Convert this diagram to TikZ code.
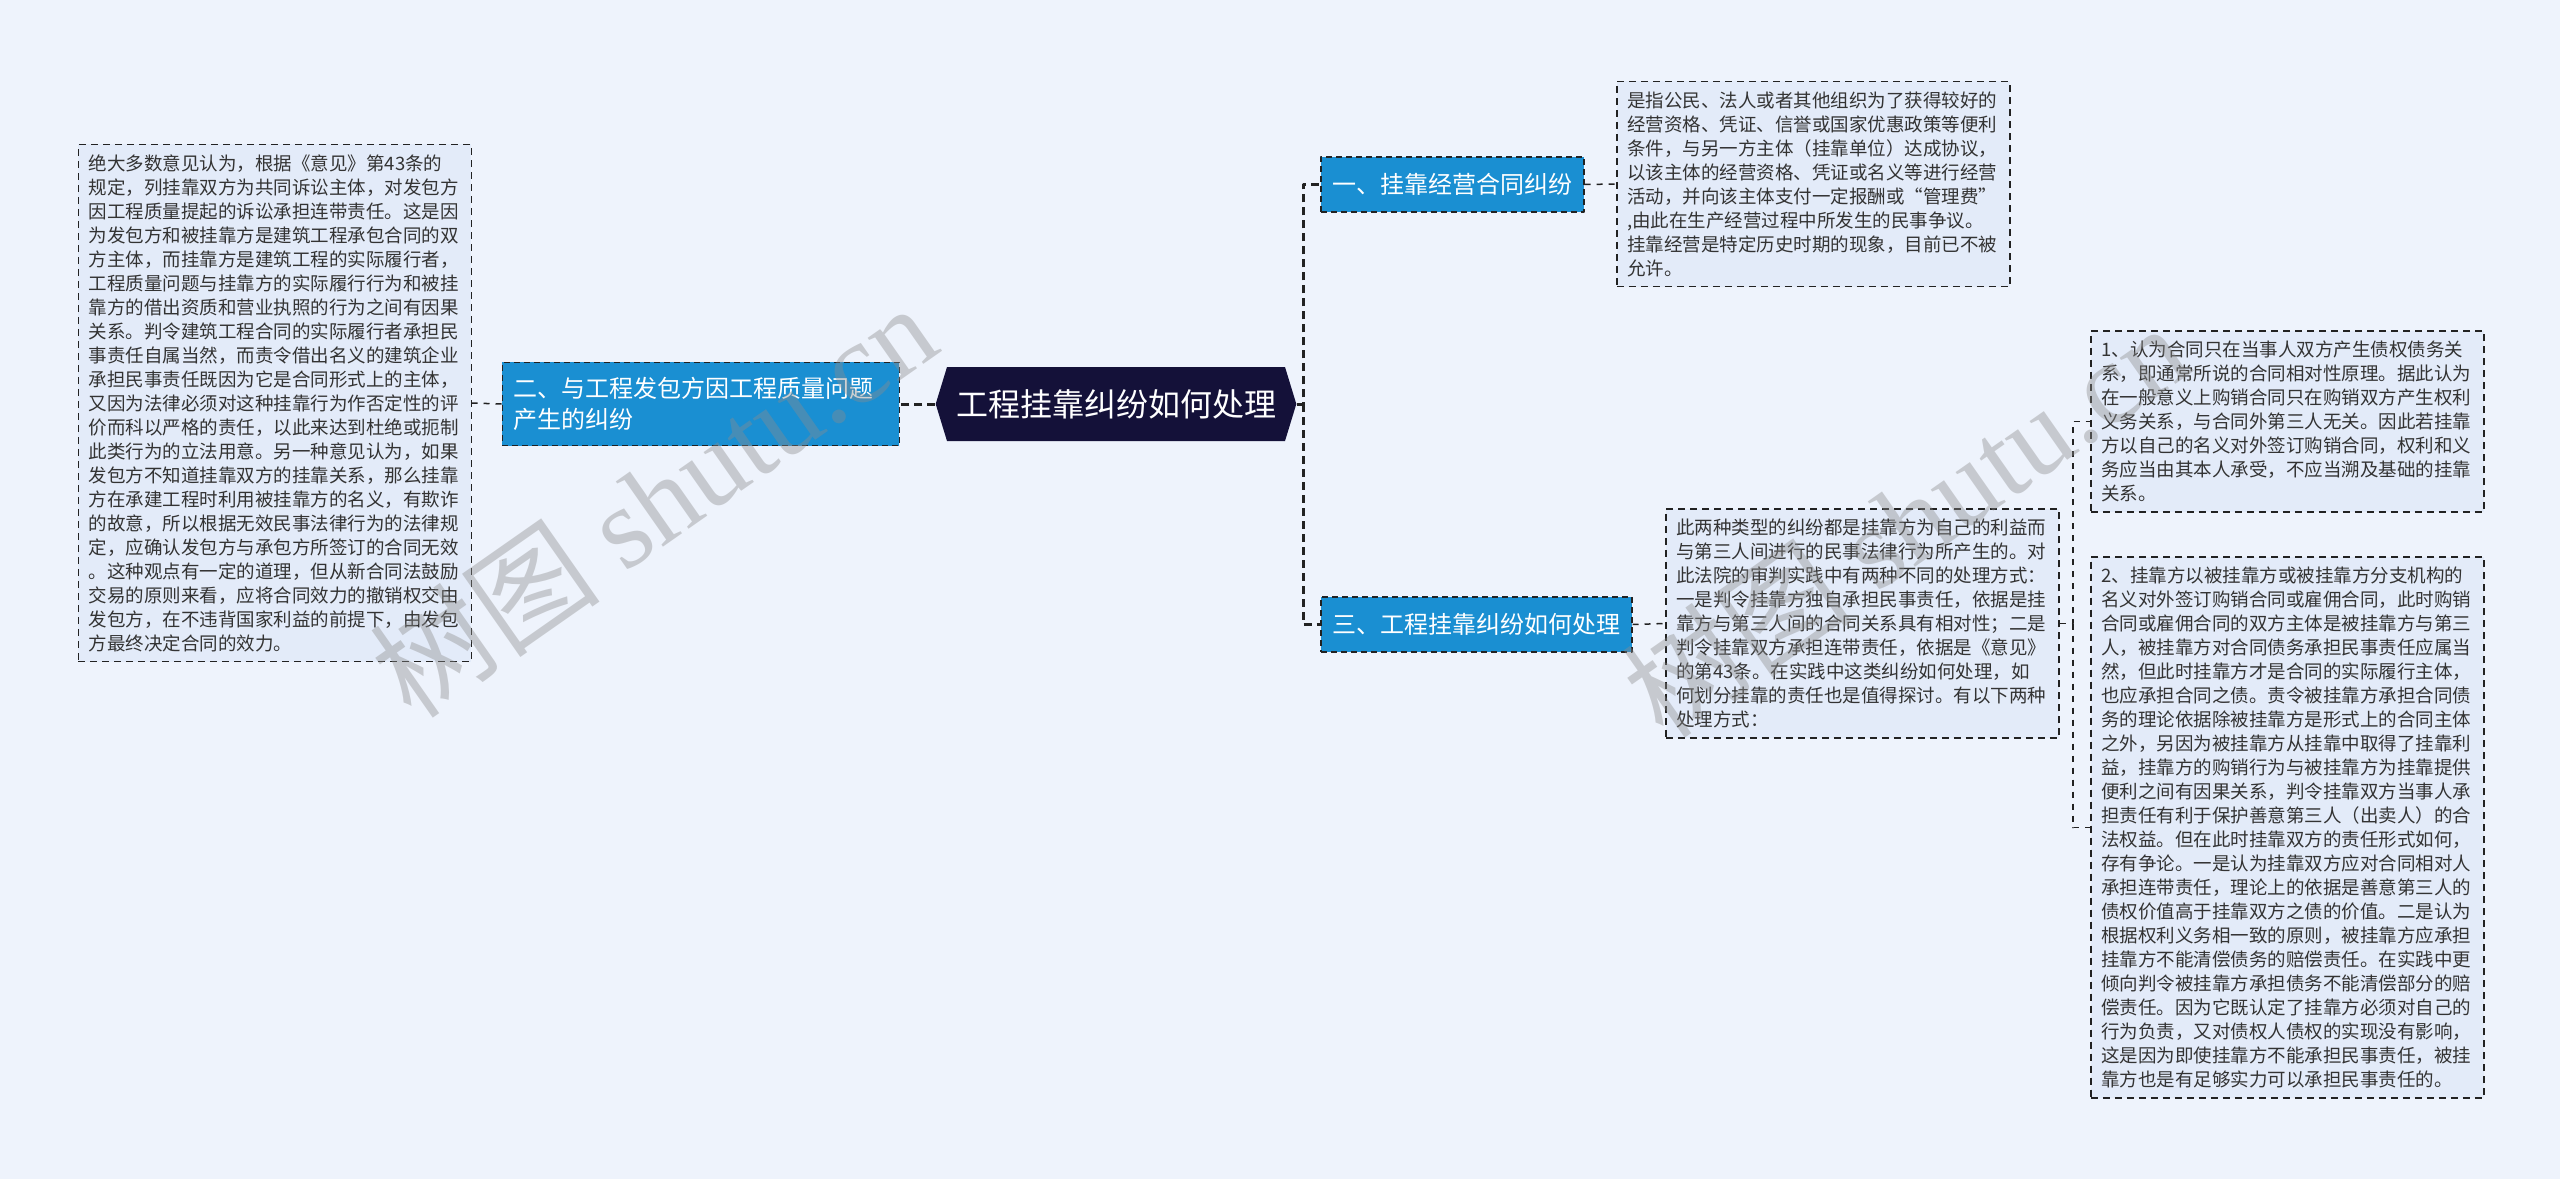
\documentclass[tikz,border=0pt]{standalone}
\usepackage{fontspec}
\setmainfont{Noto Sans CJK SC}
\newfontfamily\latinserif{Liberation Serif}
\usetikzlibrary{shapes.symbols}
\definecolor{pagebg}{HTML}{EEF3FC}
\definecolor{notebg}{HTML}{E3EBF9}
\definecolor{topicblue}{HTML}{1A8FD2}
\definecolor{rootnavy}{HTML}{141139}
\definecolor{inkgrey}{HTML}{222222}
\definecolor{notetext}{HTML}{333333}
\tikzset{
  notebox/.style={draw=inkgrey, fill=notebg, text=notetext, line width=0.75pt,
    dash pattern=on 3.5pt off 2.5pt, align=left, text width=186pt,
    inner xsep=5.25pt, inner ysep=5pt, font=\fontsize{9.25}{12}\selectfont},
  topicbox/.style={draw=inkgrey, fill=topicblue, text=white, line width=0.75pt,
    dash pattern=on 3pt off 2pt, inner xsep=5.75pt, minimum height=27.5pt,
    font=\fontsize{12}{15.5}\selectfont},
  rootbox/.style={shape=signal, signal to=east and west, signal pointer angle=146,
    fill=rootnavy, text=white, minimum height=37pt, inner xsep=4.5pt,
    font=\fontsize{16}{19}\selectfont},
  mainlink/.style={draw=inkgrey, line width=1.5pt, dash pattern=on 4pt off 2.5pt},
  sublink/.style={draw=inkgrey, line width=0.75pt, dash pattern=on 3pt off 3pt},
  watermark/.style={text=black!45, text opacity=0.4, rotate=35,
    font=\fontsize{58}{60}\selectfont}
}
\begin{document}
\begin{tikzpicture}[x=0.5pt, y=-0.5pt, line join=round]
  \fill[pagebg] (0,0) rectangle (2560,1179);
  \useasboundingbox (0,0) rectangle (2560,1179);
  % centre and the three topics
  \node[rootbox] (hub) at (1116,404) {工程挂靠纠纷如何处理};
  \node[topicbox, anchor=west] (one) at (1320,184.5) {一、挂靠经营合同纠纷};
  \node[topicbox, anchor=east, text width=187pt, align=left, inner ysep=7.5pt]
    (two) at (900,404) {二、与工程发包方因工程质量问题\\产生的纠纷};
  \node[topicbox, anchor=west] (three) at (1320,624.5) {三、工程挂靠纠纷如何处理};
  % notes
  \node[notebox, anchor=west] (oneNote) at (1616,184) {是指公民、法人或者其他组织为了获得较好的\\
    经营资格、凭证、信誉或国家优惠政策等便利\\
    条件，与另一方主体（挂靠单位）达成协议，\\
    以该主体的经营资格、凭证或名义等进行经营\\
    活动，并向该主体支付一定报酬或“管理费”\\
    ,由此在生产经营过程中所发生的民事争议。\\
    挂靠经营是特定历史时期的现象，目前已不被\\
    允许。};
  \node[notebox, anchor=east] (twoNote) at (472,403) {绝大多数意见认为，根据《意见》第43条的\\
    规定，列挂靠双方为共同诉讼主体，对发包方\\
    因工程质量提起的诉讼承担连带责任。这是因\\
    为发包方和被挂靠方是建筑工程承包合同的双\\
    方主体，而挂靠方是建筑工程的实际履行者，\\
    工程质量问题与挂靠方的实际履行行为和被挂\\
    靠方的借出资质和营业执照的行为之间有因果\\
    关系。判令建筑工程合同的实际履行者承担民\\
    事责任自属当然，而责令借出名义的建筑企业\\
    承担民事责任既因为它是合同形式上的主体，\\
    又因为法律必须对这种挂靠行为作否定性的评\\
    价而科以严格的责任，以此来达到杜绝或扼制\\
    此类行为的立法用意。另一种意见认为，如果\\
    发包方不知道挂靠双方的挂靠关系，那么挂靠\\
    方在承建工程时利用被挂靠方的名义，有欺诈\\
    的故意，所以根据无效民事法律行为的法律规\\
    定，应确认发包方与承包方所签订的合同无效\\
    。这种观点有一定的道理，但从新合同法鼓励\\
    交易的原则来看，应将合同效力的撤销权交由\\
    发包方，在不违背国家利益的前提下，由发包\\
    方最终决定合同的效力。};
  \node[notebox, anchor=west] (threeNote) at (1665,623.5) {此两种类型的纠纷都是挂靠方为自己的利益而\\
    与第三人间进行的民事法律行为所产生的。对\\
    此法院的审判实践中有两种不同的处理方式：\\
    一是判令挂靠方独自承担民事责任，依据是挂\\
    靠方与第三人间的合同关系具有相对性；二是\\
    判令挂靠双方承担连带责任，依据是《意见》\\
    的第43条。在实践中这类纠纷如何处理，如\\
    何划分挂靠的责任也是值得探讨。有以下两种\\
    处理方式：};
  \node[notebox, anchor=west] (caseA) at (2090,421.5) {1、认为合同只在当事人双方产生债权债务关\\
    系，即通常所说的合同相对性原理。据此认为\\
    在一般意义上购销合同只在购销双方产生权利\\
    义务关系，与合同外第三人无关。因此若挂靠\\
    方以自己的名义对外签订购销合同，权利和义\\
    务应当由其本人承受，不应当溯及基础的挂靠\\
    关系。};
  \node[notebox, anchor=west] (caseB) at (2090,827.5) {2、挂靠方以被挂靠方或被挂靠方分支机构的\\
    名义对外签订购销合同或雇佣合同，此时购销\\
    合同或雇佣合同的双方主体是被挂靠方与第三\\
    人，被挂靠方对合同债务承担民事责任应属当\\
    然，但此时挂靠方才是合同的实际履行主体，\\
    也应承担合同之债。责令被挂靠方承担合同债\\
    务的理论依据除被挂靠方是形式上的合同主体\\
    之外，另因为被挂靠方从挂靠中取得了挂靠利\\
    益，挂靠方的购销行为与被挂靠方为挂靠提供\\
    便利之间有因果关系，判令挂靠双方当事人承\\
    担责任有利于保护善意第三人（出卖人）的合\\
    法权益。但在此时挂靠双方的责任形式如何，\\
    存有争论。一是认为挂靠双方应对合同相对人\\
    承担连带责任，理论上的依据是善意第三人的\\
    债权价值高于挂靠双方之债的价值。二是认为\\
    根据权利义务相一致的原则，被挂靠方应承担\\
    挂靠方不能清偿债务的赔偿责任。在实践中更\\
    倾向判令被挂靠方承担债务不能清偿部分的赔\\
    偿责任。因为它既认定了挂靠方必须对自己的\\
    行为负责，又对债权人债权的实现没有影响，\\
    这是因为即使挂靠方不能承担民事责任，被挂\\
    靠方也是有足够实力可以承担民事责任的。};
  % links
  \coordinate (spine) at (1303,404);
  \coordinate (fork) at (2073,623.5);
  \draw[mainlink] (hub.east) -- (spine) |- (one.west);
  \draw[mainlink] (spine) |- (three.west);
  \draw[mainlink] (hub.west) -- (two.east);
  \draw[sublink] (two.west) -- (twoNote.east);
  \draw[sublink] (one.east) -- (oneNote.west);
  \draw[sublink] (three.east) -- (threeNote.west);
  \draw[sublink] (threeNote.east) -- (fork) |- (caseA.west);
  \draw[sublink] (fork) |- (caseB.west);
  % watermarks
  \node[watermark] (wmLeft) at (653,500) {树图 {\latinserif shutu.cn}};
  \node[watermark] (wmRight) at (1905,520) {树图 {\latinserif shutu.cn}};
\end{tikzpicture}
\end{document}
